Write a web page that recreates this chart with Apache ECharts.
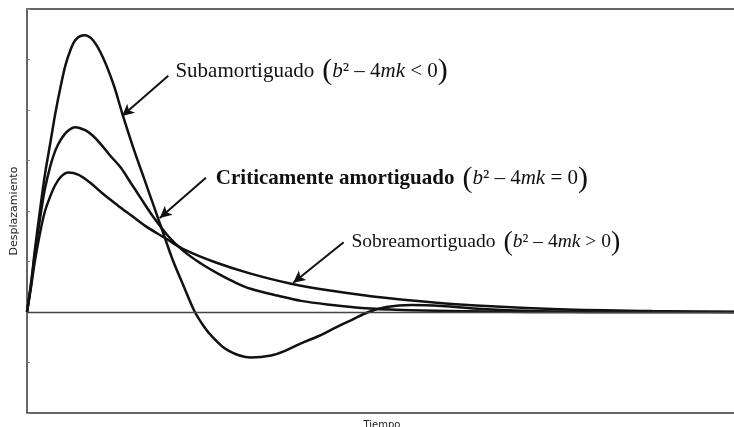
<!DOCTYPE html>
<html>
<head>
<meta charset="utf-8">
<script src="https://cdn.jsdelivr.net/npm/echarts@6/dist/echarts.min.js"></script>
<style>
  html, body { margin: 0; padding: 0; background: #fff; }
  #chart { width: 734px; height: 427px; }
</style>
</head>
<body>
<div id="chart"></div>
<script>
// Respuesta de un sistema masa-resorte-amortiguador (desplazamiento vs. tiempo)
const subT = [0, 0.06, 0.11, 0.18, 0.25, 0.33, 0.40, 0.47, 0.54, 0.61, 0.69, 0.81, 0.93, 1.07, 1.22, 1.34, 1.50, 1.64, 1.78, 1.92, 2.05, 2.21, 2.35, 2.45, 2.59, 2.83, 3.15, 3.44, 3.65, 3.86, 4.10, 4.36, 4.57, 4.81, 5.06, 5.42, 5.84, 6.41, 7.12, 8.11, 10];
const subY = [0, 0.30, 0.61, 0.99, 1.35, 1.68, 1.97, 2.22, 2.44, 2.59, 2.70, 2.74, 2.69, 2.52, 2.25, 1.97, 1.62, 1.34, 1.06, 0.78, 0.52, 0.25, 0.02, -0.10, -0.23, -0.38, -0.45, -0.43, -0.38, -0.31, -0.24, -0.15, -0.08, 0, 0.05, 0.07, 0.06, 0.03, 0.01, 0, 0];

const critT = [0, 0.06, 0.11, 0.18, 0.25, 0.33, 0.40, 0.47, 0.57, 0.68, 0.82, 0.92, 1.03, 1.17, 1.32, 1.46, 1.60, 1.78, 1.99, 2.21, 2.45, 2.69, 2.91, 3.15, 3.54, 3.86, 4.29, 4.71, 5.28, 5.98, 7.40, 10];
const critY = [0, 0.29, 0.57, 0.91, 1.21, 1.45, 1.60, 1.70, 1.79, 1.83, 1.80, 1.75, 1.67, 1.55, 1.43, 1.28, 1.13, 0.94, 0.75, 0.60, 0.48, 0.38, 0.30, 0.23, 0.16, 0.11, 0.07, 0.04, 0.02, 0.01, 0, 0];

const sobreT = [0, 0.06, 0.11, 0.18, 0.25, 0.33, 0.40, 0.48, 0.58, 0.72, 0.89, 1.07, 1.27, 1.46, 1.67, 1.95, 2.21, 2.66, 3.15, 3.72, 4.29, 5.04, 5.98, 7.40, 8.81, 10];
const sobreY = [0, 0.26, 0.50, 0.77, 0.99, 1.15, 1.26, 1.34, 1.38, 1.36, 1.28, 1.17, 1.06, 0.96, 0.85, 0.73, 0.62, 0.49, 0.38, 0.28, 0.21, 0.14, 0.08, 0.03, 0.01, 0];

const pairs = (t, y) => t.map((v, i) => [v, y[i]]);

const chart = echarts.init(document.getElementById('chart'), null, { renderer: 'canvas' });

const curve = (name, t, y) => ({
  name, type: 'line', data: pairs(t, y), smooth: 0.35, showSymbol: false,
  lineStyle: { color: '#111', width: 2.5 }, z: 3, silent: true
});

const arrow = (from, to) => [
  { coord: from, symbol: 'none' },
  { coord: to, symbol: 'arrow' }
];

const option = {
  animation: false,
  backgroundColor: '#fff',
  grid: {
    left: 27, right: -3, top: 9, bottom: 14,
    outerBoundsMode: 'none', containLabel: false,
    show: true, borderColor: '#333', borderWidth: 1.5
  },
  xAxis: {
    type: 'value', min: 0, max: 10,
    axisLine: { show: false }, axisTick: { show: false }, axisLabel: { show: false }, splitLine: { show: false },
    name: 'Tiempo', nameLocation: 'middle', nameGap: 7,
    nameTextStyle: { fontFamily: 'DejaVu Sans', fontSize: 10, color: '#222' }
  },
  yAxis: {
    type: 'value', min: -1, max: 3, interval: 0.5,
    axisLine: { show: false },
    axisTick: { show: true, inside: true, length: 3, lineStyle: { color: '#888', width: 1 } },
    axisLabel: { show: false }, splitLine: { show: false },
    name: 'Desplazamiento', nameLocation: 'middle', nameGap: 7, nameRotate: 90,
    nameTextStyle: { fontFamily: 'DejaVu Sans', fontSize: 11, color: '#222' }
  },
  series: [
    Object.assign(curve('Subamortiguado', subT, subY), {
      markLine: {
        silent: true, symbol: 'none', label: { show: false },
        lineStyle: { color: '#444', width: 1.3, type: 'solid' },
        data: [{ yAxis: 0 }]
      }
    }),
    curve('Críticamente amortiguado', critT, critY),
    Object.assign(curve('Sobreamortiguado', sobreT, sobreY), {
      markLine: {
        silent: true, symbolSize: [9, 12], label: { show: false },
        lineStyle: { color: '#111', width: 2, type: 'solid' },
        data: [
          arrow([1.99, 2.34], [1.34, 1.94]),
          arrow([2.52, 1.33], [1.87, 0.93]),
          arrow([4.46, 0.69], [3.75, 0.29])
        ]
      }
    })
  ]
};

chart.setOption(option);

// Etiquetas de cada régimen, ancladas en coordenadas de datos
const richStyle = (bold, size) => ({
  n: { fontFamily: 'Liberation Serif', fontSize: size, fontWeight: bold ? 'bold' : 'normal', fill: '#111' },
  f: { fontFamily: 'Liberation Serif', fontSize: size, fill: '#111' },
  i: { fontFamily: 'Liberation Serif', fontSize: size, fontStyle: 'italic', fill: '#111' },
  p: { fontFamily: 'Liberation Serif', fontSize: Math.round(size * 1.42), fill: '#111' },
  g: { fontFamily: 'Liberation Serif', fontSize: size, width: 8 }
});

const labels = [
  { at: [2.09, 2.38], name: 'Subamortiguado', op: '<', bold: false, size: 21 },
  { at: [2.66, 1.32], name: 'Criticamente amortiguado', op: '=', bold: true, size: 21 },
  { at: [4.57, 0.69], name: 'Sobreamortiguado', op: '>', bold: false, size: 19.5 }
];

chart.setOption({
  graphic: labels.map(l => {
    const [x, y] = chart.convertToPixel({ gridIndex: 0 }, l.at);
    return {
      type: 'text', x, y, silent: true, z: 10,
      style: {
        text: '{n|' + l.name + '}{g| }{p|(}{i|b}{f|² – 4}{i|mk}{f| ' + l.op + ' 0}{p|)}',
        rich: richStyle(l.bold, l.size),
        verticalAlign: 'middle', align: 'left'
      }
    };
  })
});
</script>
</body>
</html>
